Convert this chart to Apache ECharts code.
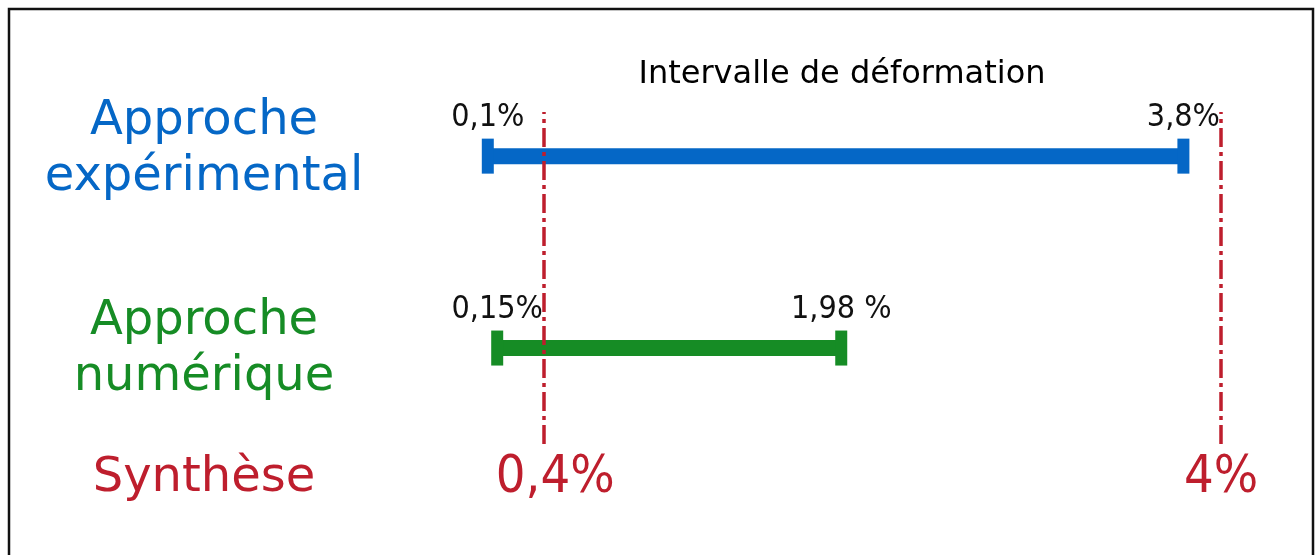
<!DOCTYPE html>
<html>
<head>
<meta charset="utf-8">
<script src="https://cdn.jsdelivr.net/npm/echarts@6/dist/echarts.min.js"></script>
<style>
  html, body { margin: 0; padding: 0; background: #ffffff; }
  #chart { width: 1316px; height: 555px; }
</style>
</head>
<body>
<div id="chart"></div>
<script>
// Deformation ranges per approach (in %)
const categories = ['Approche\nexpérimental', 'Approche\nnumérique'];
const rangeStart = [0.1, 0.15];
const rangeEnd = [3.8, 1.98];
const startLabels = ['0,1%', '0,15%'];
const endLabels = ['3,8%', '1,98 %'];

// Synthesis bounds drawn as vertical reference lines
const synthesisName = 'Synthèse';
const limits = [0.4, 4];
const limitLabels = ['0,4%', '4%'];

const chartTitle = 'Intervalle de déformation';

const rowColors = ['#0567c6', '#168c25'];
const rowNameShift = [-7, 1];
const red = '#be1e2d';
const mainFont = '"DejaVu Sans", Verdana, sans-serif';
const narrowFont = '"Liberation Sans Narrow", "Arial Narrow", "DejaVu Sans Condensed", sans-serif';

// rows stacked top to bottom: first category gets the highest y value
const rangeData = categories.map((c, i) => [rangeStart[i], rangeEnd[i], categories.length - 1 - i]);

const chart = echarts.init(document.getElementById('chart'), null, { renderer: 'canvas' });

chart.setOption({
  backgroundColor: '#ffffff',
  animation: false,
  grid: { left: 469, right: 1, top: 112, bottom: 111 },
  xAxis: { type: 'value', min: 0, max: 4.5, show: false },
  yAxis: { type: 'value', min: -0.5, max: 1.23, show: false },
  graphic: [
    {
      type: 'rect',
      shape: { x: 9, y: 9, width: 1304, height: 620 },
      style: { fill: 'none', stroke: '#111111', lineWidth: 2.5 },
      z: 0
    },
    {
      type: 'text',
      x: 842, y: 59,
      style: { text: chartTitle, font: '32px ' + mainFont, fill: '#000000', align: 'center', verticalAlign: 'top' }
    },
    {
      type: 'text',
      x: 204, y: 479,
      style: { text: synthesisName, font: '48px ' + mainFont, fill: red, align: 'center', verticalAlign: 'middle' }
    }
  ],
  series: [
    {
      type: 'custom',
      clip: false,
      data: rangeData,
      renderItem: function (params, api) {
        const i = params.dataIndex;
        const s = api.coord([api.value(0), api.value(2)]);
        const e = api.coord([api.value(1), api.value(2)]);
        const color = rowColors[i];
        const capW = 12, capH = 35;
        const valueFont = '32px ' + narrowFont;
        return {
          type: 'group',
          children: [
            { type: 'line', shape: { x1: s[0], y1: s[1], x2: e[0], y2: e[1] }, style: { stroke: color, lineWidth: 16 } },
            { type: 'rect', shape: { x: s[0] - capW / 2, y: s[1] - capH / 2, width: capW, height: capH }, style: { fill: color } },
            { type: 'rect', shape: { x: e[0] - capW / 2, y: e[1] - capH / 2, width: capW, height: capH }, style: { fill: color } },
            { type: 'text', x: s[0], y: s[1] - 22, style: { text: startLabels[i], font: valueFont, fill: '#111111', align: 'center', verticalAlign: 'bottom' } },
            { type: 'text', x: e[0], y: e[1] - 22, style: { text: endLabels[i], font: valueFont, fill: '#111111', align: 'center', verticalAlign: 'bottom' } },
            { type: 'text', x: 204, y: s[1] + rowNameShift[i], style: { text: categories[i], font: '48px ' + mainFont, lineHeight: 56, fill: color, align: 'center', verticalAlign: 'middle' } }
          ]
        };
      }
    },
    {
      type: 'scatter',
      data: [],
      markLine: {
        silent: true,
        symbol: 'none',
        lineStyle: { color: red, width: 3.5, type: [19, 5, 4, 5] },
        label: {
          show: true,
          position: 'start',
          distance: 8,
          color: red,
          fontSize: 52,
          fontFamily: narrowFont,
          formatter: function (p) { return limitLabels[p.dataIndex]; }
        },
        data: limits.map((v, i) => ({ xAxis: v, label: { offset: [i === 0 ? 11 : 0, 0] } }))
      }
    }
  ]
});
</script>
</body>
</html>
